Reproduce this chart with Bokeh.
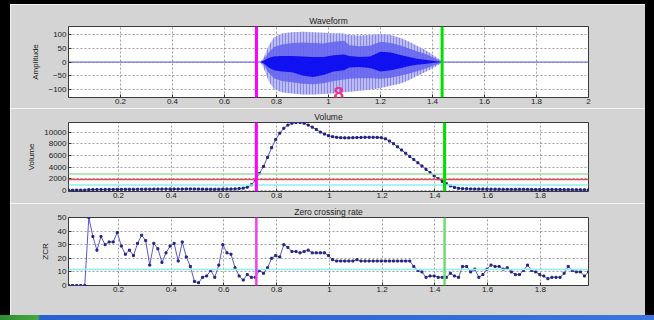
from bokeh.plotting import figure
from bokeh.layouts import column, row
from bokeh.models import Div, Span, Label, FixedTicker, Range1d, ColumnDataSource
from bokeh.embed import file_html
from bokeh.resources import INLINE

# ---------------- data ----------------
FRAME_T0 = 0.0104
FRAME_STEP = 0.01541

VOLUME = [30, 30, 40, 40, 50,
          120, 130, 140, 150, 150, 160, 160, 170,
          170, 180, 180, 190, 190, 200, 200, 200, 210, 210,
          220, 220, 220, 230, 230, 230, 240, 240, 230, 220,
          210, 200, 200, 190, 200, 210, 220,
          230, 250, 300, 380,
          550, 960, 1800, 2900, 4130, 5690, 7360, 8750, 9860, 10700, 11250, 11580,
          11700, 11700, 11580, 11250, 10900, 10500, 10050, 9700, 9420, 9250, 9140, 9080,
          9050, 9050, 9080, 9100, 9120, 9150, 9150, 9150, 9130, 9080,
          8880, 8500, 8050, 7500, 6950, 6400, 5850, 5300, 4750, 4200, 3620, 3050,
          2500, 2000, 1550, 1150, 760, 490, 350, 290, 260,
          240, 230, 220, 215, 210, 200, 195, 190, 180, 175, 170, 175, 180, 180, 170,
          160, 150, 150, 140, 150, 160, 150, 140, 130, 120, 110, 100, 100, 90, 80]

ZCR = [0, 0, 0, 0, 0, 50, 36, 26, 36, 30,
       32, 32, 39, 29, 23, 26, 22, 31, 37, 33,
       15, 31, 27, 17, 24, 29, 31, 18, 32, 21,
       14, 3, 2, 6, 7, 11, 6, 15, 30, 24,
       23, 13, 7, 4, 8, 6, 6, 11, 9, 13,
       20, 22, 21, 30, 28, 25, 25, 24, 25, 26,
       24, 24, 24, 24, 22, 19, 18, 18, 18, 18,
       18, 19, 18, 18, 18, 18, 18, 18, 18, 18,
       18, 18, 18, 18, 18, 14, 11, 10, 6, 7,
       7, 6, 6, 6, 9, 7, 6, 14, 14, 10,
       12, 6, 8, 12, 15, 14, 14, 12, 13, 10,
       8, 8, 11, 15, 11, 10, 8, 7, 5, 6,
       6, 6, 9, 14, 11, 10, 10, 7, 10]

FRAME_T = [FRAME_T0 + i * FRAME_STEP for i in range(len(VOLUME))]

WAVE_T = [0.738, 0.75, 0.77, 0.79, 0.82, 0.86, 0.90, 0.94, 0.98, 1.02, 1.06, 1.08,
          1.12, 1.16, 1.20, 1.24, 1.28, 1.31, 1.34, 1.37, 1.40, 1.42, 1.44]
OUTER_TOP = [0, 15, 60, 90, 105, 110, 112, 110, 108, 106, 105, 100, 98, 100, 104, 100,
             88, 75, 60, 45, 28, 14, 2]
OUTER_BOT = [0, -20, -70, -100, -112, -116, -120, -120, -118, -115, -112, -110, -106,
             -102, -96, -88, -78, -66, -52, -38, -24, -12, -2]
MID_TOP = [0, 8, 35, 55, 65, 70, 72, 70, 68, 75, 78, 62, 58, 60, 75, 70, 60, 50, 40, 30,
           18, 8, 1]
MID_BOT = [0, -10, -40, -60, -70, -75, -80, -82, -78, -70, -65, -62, -60, -60, -62, -58,
           -50, -42, -34, -25, -15, -7, -1]
CORE_TOP = [0, 5, 15, 20, 22, 22, 20, 18, 18, 25, 28, 22, 18, 20, 38, 35, 25, 18, 12, 8,
            5, 2, 0]
CORE_BOT = [0, -5, -20, -30, -35, -38, -50, -55, -48, -35, -30, -20, -18, -22, -35, -30,
            -22, -15, -10, -7, -4, -2, 0]
SILENCE_T = [0.0, 2.0]
SILENCE_V = [0, 0]

ENDPOINTS = [0.723, 1.437]           # start (magenta), end (green)
VOL_THRESHOLDS = [2800, 1850, 930]    # green, red, cyan
ZCR_THRESHOLD = 11.8

WAVE_XTICKS = [0.2, 0.4, 0.6, 0.8, 1.0, 1.2, 1.4, 1.6, 1.8, 2.0]
WAVE_XLABELS = ["0.2", "0.4", "0.6", "0.8", "1", "1.2", "1.4", "1.6", "1.8", "2"]
FRAME_XTICKS = [0.2, 0.4, 0.6, 0.8, 1.0, 1.2, 1.4, 1.6, 1.8]
FRAME_XLABELS = ["0.2", "0.4", "0.6", "0.8", "1", "1.2", "1.4", "1.6", "1.8"]
WAVE_YTICKS = [-100, -50, 0, 50, 100]
VOL_YTICKS = [0, 2000, 4000, 6000, 8000, 10000]
ZCR_YTICKS = [0, 10, 20, 30, 40, 50]

# ---------------- styling ----------------
GRAY = "#d4d4d4"
FONT = "Liberation Sans"
TXT = "#222222"


def make_fig(height, btop, bbot, xr, yr, title, ylabel, xticks, xlabels, yticks):
    p = figure(width=635, height=height, x_range=xr, y_range=yr,
               output_backend="svg", toolbar_location=None,
               min_border_left=58, min_border_right=57,
               min_border_top=btop, min_border_bottom=bbot)
    p.background_fill_color = "white"
    p.border_fill_color = GRAY
    p.outline_line_color = "#3a3a3a"
    p.outline_line_width = 1
    p.title.text = title
    p.title.align = "center"
    p.title.text_font = FONT
    p.title.text_font_size = "8.5px"
    p.title.text_font_style = "normal"
    p.title.text_color = TXT
    p.title.standoff = 2
    p.title.offset = 0
    for ax in (p.xaxis[0], p.yaxis[0]):
        ax.axis_line_color = None
        ax.major_tick_in = 3
        ax.major_tick_out = 0
        ax.major_tick_line_color = "#333333"
        ax.minor_tick_line_color = None
        ax.major_label_text_font = FONT
        ax.major_label_text_font_size = "8px"
        ax.major_label_text_color = TXT
        ax.major_label_standoff = 2
    p.xaxis[0].ticker = FixedTicker(ticks=xticks)
    p.xaxis[0].major_label_overrides = {t: l for t, l in zip(xticks, xlabels)}
    p.xaxis[0].major_label_standoff = 1
    p.yaxis[0].ticker = FixedTicker(ticks=yticks)
    p.yaxis[0].axis_label = ylabel
    p.yaxis[0].axis_label_text_font = FONT
    p.yaxis[0].axis_label_text_font_size = "8px"
    p.yaxis[0].axis_label_text_font_style = "normal"
    p.yaxis[0].axis_label_text_color = TXT
    p.yaxis[0].axis_label_standoff = 5
    for g in (p.xgrid[0], p.ygrid[0]):
        g.grid_line_color = "#505050"
        g.grid_line_dash = "2 2"
        g.grid_line_alpha = 0.55
        g.grid_line_width = 1
    return p


# ---------------- waveform ----------------
p1 = make_fig(104, 22, 11, Range1d(0, 2.0), Range1d(-131, 131), "Waveform", "Amplitude",
              WAVE_XTICKS, WAVE_XLABELS, WAVE_YTICKS)
wsrc = ColumnDataSource(dict(t=WAVE_T, ot=OUTER_TOP, ob=OUTER_BOT, mt=MID_TOP, mb=MID_BOT,
                             ct=CORE_TOP, cb=CORE_BOT))
p1.line(SILENCE_T, SILENCE_V, line_color="#5a5ae0", line_width=1)
p1.varea(x="t", y1="ob", y2="ot", source=wsrc, fill_color="#bcbcf4",
         hatch_pattern="vertical_line", hatch_color="#8a8ae6", hatch_scale=3, hatch_weight=1)
p1.varea(x="t", y1="mb", y2="mt", source=wsrc, fill_color="#6262ee", fill_alpha=0.85)
p1.varea(x="t", y1="cb", y2="ct", source=wsrc, fill_color="#1010f0")
p1.add_layout(Span(location=ENDPOINTS[0], dimension="height", line_color="#ff00ff", line_width=3))
p1.add_layout(Span(location=ENDPOINTS[1], dimension="height", line_color="#00e000", line_width=3))
p1.add_layout(Label(x=1.04, y=-118, text="8", text_color="#e8358f", text_font=FONT,
                    text_font_size="19px", text_font_style="bold",
                    text_align="center", text_baseline="middle"))

# ---------------- volume ----------------
xr_frames = Range1d(FRAME_T[0], FRAME_T[-1])
p2 = make_fig(95, 10, 12, xr_frames, Range1d(-200, 11700), "Volume", "Volume",
              FRAME_XTICKS, FRAME_XLABELS, VOL_YTICKS)
for lvl, col in zip(VOL_THRESHOLDS, ["#9ee09e", "#e05050", "#90eeee"]):
    p2.add_layout(Span(location=lvl, dimension="width", line_color=col, line_width=1.5))
p2.line(FRAME_T, VOLUME, line_color="#5050cc", line_width=1)
p2.scatter(FRAME_T, VOLUME, marker="square", size=2, color="#22227a")
p2.add_layout(Span(location=ENDPOINTS[0], dimension="height", line_color="#ff00ff", line_width=3))
p2.add_layout(Span(location=ENDPOINTS[1], dimension="height", line_color="#00e000", line_width=3))

# ---------------- zero crossing rate ----------------
p3 = make_fig(112, 10, 30, Range1d(FRAME_T[0], FRAME_T[-1]), Range1d(0, 50),
              "Zero crossing rate", "ZCR", FRAME_XTICKS, FRAME_XLABELS, ZCR_YTICKS)
p3.add_layout(Span(location=ZCR_THRESHOLD, dimension="width", line_color="#90eeee", line_width=1.5))
p3.line(FRAME_T, ZCR, line_color="#5858cc", line_width=1)
p3.scatter(FRAME_T, ZCR, marker="square", size=2, color="#26267e")
p3.add_layout(Span(location=ENDPOINTS[0], dimension="height", line_color="#f040f0", line_width=2.5))
p3.add_layout(Span(location=ENDPOINTS[1], dimension="height", line_color="#70dd70", line_width=2.5))

# ---------------- frame ----------------
def block(w, h, bg):
    return Div(text="", width=w, height=h, margin=0,
               styles={"background": bg, "overflow": "hidden"})


black_top = block(654, 4, "#000000")
black_left = block(10, 311, "#000000")
black_right = block(9, 311, "#000000")
taskbar = block(654, 5, "linear-gradient(90deg, #2e8b2e 0px, #43a843 38px, "
                        "#2a60cf 40px, #3b74dc 100%)")
plots = column(p1, p2, p3, spacing=0)
layout = column(black_top, row(black_left, plots, black_right, spacing=0), taskbar, spacing=0)

open("out.html", "w").write(file_html(layout, INLINE))
